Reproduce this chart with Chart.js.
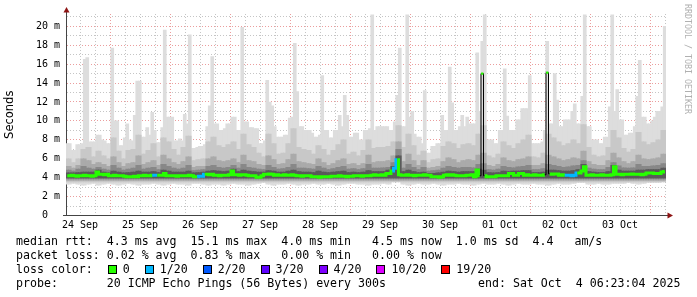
<!DOCTYPE html>
<html><head><meta charset="utf-8">
<script src="https://cdn.jsdelivr.net/npm/chart.js@4.4.1/dist/chart.umd.min.js"></script>
<style>
html,body{margin:0;padding:0;background:#fff}
#wrap{position:relative;width:697px;height:297px;overflow:hidden;background:#fff}
canvas{position:absolute;left:0;top:0}
.leg{position:absolute;left:16px;font-family:'DejaVu Sans Mono',monospace;font-size:11.6px;line-height:14px;white-space:pre;color:#000}
.item{display:inline-block}
.sq{display:inline-block;width:7px;height:7px;border:1px solid #000;vertical-align:-1px;margin-right:6px}
#wm{position:absolute;left:683px;top:4px;writing-mode:vertical-rl;font-family:'DejaVu Sans Mono',monospace;font-size:8.3px;line-height:10px;color:#b0b0b0;white-space:pre}
</style></head>
<body><div id="wrap"><canvas id="c" width="697" height="297"></canvas>
<div class="leg" style="top:234px">median rtt:  4.3 ms avg  15.1 ms max  4.0 ms min   4.5 ms now  1.0 ms sd  4.4   am/s</div>
<div class="leg" style="top:248px">packet loss: 0.02 % avg  0.83 % max   0.00 % min   0.00 % now</div>
<div class="leg" id="lossRow" style="top:262px">loss color:  </div>
<div class="leg" style="top:276px">probe:       20 ICMP Echo Pings (56 Bytes) every 300s</div>
<div class="leg" style="top:276px;left:478px">end: Sat Oct  4 06:23:04 2025</div>
<div id="wm">RRDTOOL / TOBI OETIKER</div>
</div>
<script>
// window start: hours after 24 Sep 00:00 (end: Sat Oct 4 06:23:04, 10 days shown)
const t0 = 6 + 23 / 60 + 4 / 3600;
const spanHours = 240;

const dayLabels = ['24 Sep','25 Sep','26 Sep','27 Sep','28 Sep','29 Sep','30 Sep','01 Oct','02 Oct','03 Oct'];
const yTickLabels = ['0  ','2 m','4 m','6 m','8 m','10 m','12 m','14 m','16 m','18 m','20 m'];

// highest ping per hour (ms)
const maxRtt = [
7.6,7.6,6.9,6.9,7.5,7.5,7.6,16.5,16.7,7.8,
7.8,7.8,8.5,8.5,8.0,7.9,7.6,7.6,17.7,10.0,
10.0,7.4,7.4,8.2,9.7,8.0,7.9,10.6,14.2,14.2,
8.3,8.3,9.3,8.5,10.9,9.0,7.7,7.7,9.3,19.6,
10.4,10.4,10.4,7.9,7.9,8.1,7.9,10.7,9.7,19.1,
7.1,7.1,7.2,7.3,7.3,7.5,9.4,11.6,16.8,9.7,
9.7,9.0,9.0,9.2,9.7,9.7,10.4,10.4,9.0,9.0,
19.9,9.9,9.9,9.3,9.3,9.2,9.2,7.6,7.6,7.9,
14.3,12.0,11.6,9.4,8.3,8.3,8.3,8.5,8.5,10.3,
10.4,18.2,13.1,9.4,9.4,9.0,9.0,9.0,8.7,8.3,
8.3,8.5,14.8,9.0,9.0,8.2,8.2,9.0,9.0,10.6,
9.4,12.7,10.6,8.3,8.3,8.7,8.7,8.0,8.0,9.0,
9.0,9.2,21.2,9.0,9.4,9.4,9.4,9.4,9.4,9.0,
9.0,9.9,12.7,17.7,9.4,9.4,21.2,10.4,11.0,8.6,
8.3,8.3,7.6,13.2,6.6,6.6,7.3,7.3,7.6,7.6,
10.6,9.0,9.0,15.7,11.9,9.0,9.0,9.4,10.6,9.4,
10.4,9.7,9.7,9.7,17.2,11.0,18.4,21.2,8.0,8.0,
8.0,7.6,7.6,9.0,9.0,15.5,10.5,9.0,9.0,9.0,
10.1,10.1,11.3,11.3,11.3,14.8,7.6,7.6,7.6,7.6,
7.8,9.0,18.4,9.7,9.7,15.0,12.2,9.4,9.4,10.1,
10.1,10.1,11.0,11.8,9.7,9.7,12.6,21.2,9.4,9.4,
8.0,8.0,8.0,7.6,7.6,8.3,8.3,11.5,21.2,11.0,
13.3,10.1,10.1,8.5,8.5,8.7,8.7,9.4,12.6,16.4,
10.4,10.4,9.7,9.7,10.0,10.4,11.0,11.0,11.5,20.0
];

// lowest ping per 2 hours (ms)
const minRtt = [
3.3,3.4,3.3,3.2,3.3,3.4,3.2,3.3,3.4,3.3,
3.2,3.3,3.4,3.3,3.2,3.3,3.3,3.4,3.3,3.2,
3.3,3.4,3.3,3.3,3.2,3.4,3.4,3.3,3.2,3.3,
3.3,3.2,3.3,3.4,3.3,3.3,3.2,3.3,3.4,3.5,
3.3,3.2,3.3,3.3,3.4,3.3,3.2,3.3,3.3,3.4,
3.3,3.3,3.4,3.3,3.2,3.3,3.4,3.4,3.3,3.3,
3.2,3.3,3.3,3.4,3.3,3.6,3.7,3.3,3.2,3.3,
3.4,3.3,3.3,3.4,3.3,3.2,3.3,3.3,3.4,3.3,
3.3,3.2,3.3,3.4,3.3,3.3,3.4,3.3,3.2,3.3,
3.4,3.3,3.3,3.4,3.3,3.3,3.2,3.3,3.4,3.3,
3.3,3.4,3.5,3.5,3.3,3.3,3.4,3.3,3.3,3.4,
3.4,3.4,3.5,3.4,3.3,3.4,3.5,3.5,3.5,3.6
];

// smoke band tops per 2 hours (ms), outer to inner
const band1Hi = [
6.0,5.6,6.0,7.0,7.2,6.2,6.8,6.3,6.0,8.2,
6.8,6.0,6.9,7.0,8.5,6.5,6.9,7.6,6.2,8.2,
7.8,7.0,6.4,7.2,8.4,5.8,5.9,6.0,7.8,8.3,
7.4,7.2,7.5,7.8,7.0,8.6,7.5,7.2,6.6,6.2,
8.6,7.6,6.5,6.6,7.6,9.2,7.2,7.0,6.9,6.5,
7.4,7.0,6.4,6.9,7.5,8.0,6.5,6.7,6.3,6.9,
8.0,7.1,7.2,7.2,7.3,7.8,9.5,7.2,8.6,7.4,
6.4,6.8,5.6,5.9,6.0,7.3,7.8,7.6,7.1,7.5,
7.6,7.4,8.6,9.5,6.3,6.1,6.5,7.8,7.4,7.1,
7.6,8.0,8.5,6.2,6.1,6.6,8.6,8.2,7.8,7.4,
7.6,8.0,7.6,9.6,7.2,6.4,6.2,6.3,7.2,9.0,
8.2,7.1,6.7,7.0,8.8,7.8,7.5,7.7,8.0,9.0
];
const band2Hi = [
5.2,5.0,5.3,6.0,5.8,5.4,5.6,5.4,5.2,6.2,
5.6,5.2,5.5,5.6,6.3,5.4,5.6,5.8,5.3,6.4,
6.0,5.6,5.4,5.7,6.2,5.1,5.2,5.2,6.0,6.2,
5.8,5.7,5.8,6.0,5.6,6.4,5.8,5.7,5.4,5.3,
6.3,5.9,5.4,5.5,5.9,6.5,5.7,5.6,5.5,5.4,
6.0,5.6,5.3,5.5,5.8,6.0,5.4,5.5,5.3,5.5,
6.4,5.6,5.7,5.7,5.8,6.3,7.8,5.7,6.5,5.8,
5.3,5.8,5.0,5.1,5.2,5.7,6.1,5.9,5.6,5.8,
5.9,5.8,6.4,6.6,5.3,5.2,5.4,6.1,5.8,5.7,
5.9,6.0,6.2,5.3,5.3,5.5,6.4,6.2,6.0,5.8,
5.9,6.1,6.0,6.8,5.7,5.4,5.3,5.3,5.8,6.6,
6.1,5.7,5.5,5.7,6.4,6.0,5.9,6.0,6.1,6.5
];
const band3Hi = [
4.8,4.7,4.9,5.2,5.0,4.9,5.1,4.9,4.8,5.3,
5.0,4.8,4.9,5.0,5.3,4.9,5.0,5.1,4.85,5.4,
5.2,5.0,4.9,5.0,5.3,4.75,4.8,4.85,5.2,5.3,
5.1,5.0,5.1,5.3,5.0,5.4,5.1,5.0,4.9,4.85,
5.3,5.1,4.9,4.95,5.1,5.4,5.0,5.0,4.95,4.9,
5.2,5.0,4.85,4.95,5.1,5.2,4.9,4.95,4.85,4.95,
5.4,5.0,5.0,5.05,5.1,5.6,7.0,5.0,5.4,5.1,
4.85,5.1,4.7,4.75,4.8,5.0,5.2,5.1,5.0,5.1,
5.1,5.05,5.4,5.5,4.85,4.8,4.9,5.2,5.1,5.05,
5.15,5.2,5.3,4.85,4.85,4.95,5.4,5.3,5.2,5.1,
5.15,5.25,5.3,5.8,5.0,4.9,4.85,4.85,5.1,5.6,
5.25,5.05,5.0,5.05,5.4,5.2,5.2,5.25,5.3,5.5
];
const band4Hi = [
4.5,4.5,4.55,4.6,4.6,4.6,4.8,4.6,4.5,4.7,
4.6,4.5,4.55,4.6,4.7,4.6,4.6,4.65,4.55,4.8,
4.7,4.6,4.6,4.6,4.7,4.5,4.55,4.6,4.7,4.75,
4.7,4.65,4.7,4.9,4.65,4.8,4.7,4.65,4.6,4.6,
4.75,4.7,4.6,4.6,4.7,4.8,4.65,4.6,4.6,4.55,
4.7,4.6,4.55,4.6,4.65,4.7,4.55,4.6,4.55,4.6,
4.75,4.65,4.65,4.65,4.8,5.2,6.3,4.65,4.8,4.65,
4.55,4.6,4.45,4.45,4.5,4.6,4.7,4.65,4.6,4.65,
4.65,4.65,4.9,4.8,4.55,4.5,4.55,4.7,4.65,4.7,
4.7,4.75,4.75,4.55,4.55,4.6,4.8,4.8,4.75,4.7,
4.7,4.75,4.85,5.4,4.65,4.6,4.55,4.55,4.65,5.3,
4.8,4.7,4.7,4.7,4.8,4.8,4.85,4.85,4.85,5.0
];
// bottoms of the inner smoke bands (ms)
const bandFloors = [3.55, 3.72, 3.86, 3.97];

// median rtt per hour (ms)
const medianRtt = [
4.2,4.2,4.25,4.2,4.15,4.2,4.2,4.25,4.2,4.2,
4.15,4.2,4.6,4.35,4.35,4.3,4.35,4.2,4.2,4.25,
4.2,4.2,4.2,4.15,4.1,4.1,4.1,4.15,4.1,4.2,
4.2,4.25,4.2,4.2,4.25,4.25,4.25,4.25,4.25,4.45,
4.2,4.2,4.2,4.2,4.15,4.2,4.2,4.2,4.2,4.25,
4.2,4.1,4.1,4.15,4.15,4.35,4.35,4.3,4.35,4.25,
4.25,4.2,4.25,4.25,4.25,4.3,4.7,4.3,4.3,4.25,
4.3,4.3,4.25,4.2,4.2,4.2,4.05,4.05,4.2,4.35,
4.35,4.4,4.35,4.25,4.3,4.25,4.25,4.3,4.25,4.25,
4.3,4.25,4.2,4.2,4.15,4.2,4.2,4.2,4.1,4.1,
4.1,4.05,4.1,4.1,4.1,4.1,4.15,4.15,4.15,4.2,
4.15,4.15,4.1,4.15,4.15,4.2,4.2,4.2,4.15,4.2,
4.2,4.2,4.25,4.3,4.25,4.25,4.3,4.25,4.45,4.45,
4.7,5.0,5.9,4.3,4.25,4.25,4.3,4.25,4.25,4.2,
4.25,4.25,4.25,4.3,4.25,4.25,4.1,4.1,4.1,4.05,
4.1,4.25,4.3,4.25,4.3,4.25,4.2,4.2,4.2,4.2,
4.25,4.25,4.3,4.1,4.8,4.2,15.0,4.2,4.1,4.1,
4.1,4.1,4.2,4.2,4.2,4.2,4.2,4.45,4.45,4.25,
4.25,4.45,4.45,4.25,4.3,4.25,4.25,4.3,4.25,4.25,
4.25,4.3,15.1,4.4,4.35,4.4,4.4,4.25,4.3,4.25,
4.25,4.25,4.2,4.25,4.5,4.5,4.7,5.15,4.25,4.25,
4.3,4.25,4.25,4.25,4.3,4.25,4.25,4.25,4.3,5.15,
4.35,4.35,4.3,4.35,4.35,4.35,4.4,4.35,4.35,4.35,
4.3,4.35,4.5,4.5,4.5,4.45,4.45,4.45,4.6,4.65
];

// hours with lost pings, and how many (index into lossColors)
const lossAt = [35, 53, 54, 131, 200, 201, 202, 203];
const lossLevel = [1, 1, 1, 1, 1, 1, 1, 1];
const lossLabels = ['0','1/20','2/20','3/20','4/20','10/20','19/20'];
const lossColors = ['#26ff00','#00b8ff','#0059ff','#5e00ff','#7e00ff','#dd00ff','#ff0000'];

// ---- legend row of loss colours ----
const row = document.getElementById('lossRow');
lossLabels.forEach((lab, k) => {
  const it = document.createElement('span');
  it.className = 'item';
  it.style.marginLeft = k === 0 ? '1px' : '15px';
  const sq = document.createElement('span');
  sq.className = 'sq';
  sq.style.background = lossColors[k];
  it.appendChild(sq);
  it.appendChild(document.createTextNode(lab));
  row.appendChild(it);
});

// ---- chart ----
Chart.defaults.font.family = "'DejaVu Sans Mono', monospace";
const majorGrid = 'rgba(215,60,60,0.5)';
const minorGrid = 'rgba(140,140,140,0.5)';
const axisColor = '#444';

const hourX = i => t0 + i + 0.5;
const lossOf = i => { const k = lossAt.indexOf(i); return k < 0 ? 0 : lossLevel[k]; };

const bandDefs = [
  { hi: i => maxRtt[i], lo: i => minRtt[i >> 1], color: '#dddddd' },
  { hi: i => band1Hi[i >> 1], lo: () => bandFloors[0], color: '#c8c8c8' },
  { hi: i => band2Hi[i >> 1], lo: () => bandFloors[1], color: '#aaaaaa' },
  { hi: i => band3Hi[i >> 1], lo: () => bandFloors[2], color: '#888888' },
  { hi: i => band4Hi[i >> 1], lo: () => bandFloors[3], color: '#5a5a5a' }
];
const bandSets = bandDefs.map((b, k) => ({
  type: 'bar',
  data: maxRtt.map((_, i) => ({ x: hourX(i), y: [b.lo(i), b.hi(i)] })),
  backgroundColor: b.color,
  borderWidth: 0,
  barThickness: 3,
  grouped: false,
  order: 10 - k
}));

const bigJump = c => Math.abs(c.p1.parsed.y - c.p0.parsed.y) > 2;
const medianSet = {
  type: 'line',
  data: medianRtt.map((v, i) => ({ x: hourX(i), y: v })),
  stepped: 'middle',
  borderColor: lossColors[0],
  borderWidth: 3,
  borderCapStyle: 'butt',
  pointRadius: c => (c.raw && c.raw.y > 10 ? 1.6 : 0),
  pointStyle: 'rect',
  pointBackgroundColor: lossColors[0],
  pointBorderWidth: 0,
  fill: false,
  order: 1,
  segment: {
    borderColor: c => bigJump(c) ? '#000000' : lossColors[Math.max(lossOf(c.p0DataIndex), lossOf(c.p1DataIndex))],
    borderWidth: c => bigJump(c) ? 1 : 3
  }
};

const xGrid = [];
for (let h = 12; h <= t0 + spanHours; h += 6) xGrid.push(h);
const yGrid = [];
for (let v = 0; v <= 21; v++) yGrid.push(v);

const axisArrows = {
  id: 'axisArrows',
  afterDraw(chart) {
    const { ctx, chartArea: a } = chart;
    const xa = Math.round(a.left) + 0.5;
    const ya = Math.round(a.bottom - 0.5) + 0.5;
    ctx.save();
    ctx.strokeStyle = axisColor; ctx.lineWidth = 1;
    ctx.beginPath(); ctx.moveTo(xa, a.top); ctx.lineTo(xa, a.top - 4); ctx.stroke();
    ctx.beginPath(); ctx.moveTo(a.right, ya); ctx.lineTo(a.right + 3, ya); ctx.stroke();
    ctx.beginPath(); ctx.moveTo(a.left - 3, ya); ctx.lineTo(a.left, ya); ctx.stroke();
    ctx.fillStyle = '#8e1414';
    ctx.beginPath(); ctx.moveTo(xa - 3, a.top - 1.5); ctx.lineTo(xa + 3, a.top - 1.5); ctx.lineTo(xa, a.top - 7); ctx.closePath(); ctx.fill();
    ctx.beginPath(); ctx.moveTo(a.right + 1.5, ya - 3); ctx.lineTo(a.right + 1.5, ya + 3); ctx.lineTo(a.right + 7, ya); ctx.closePath(); ctx.fill();
    ctx.restore();
  }
};

new Chart(document.getElementById('c'), {
  type: 'bar',
  data: { datasets: [...bandSets, medianSet] },
  options: {
    responsive: false,
    animation: false,
    events: [],
    layout: { padding: { left: 0, right: 31, top: 14, bottom: 0 } },
    plugins: { legend: { display: false }, tooltip: { enabled: false } },
    scales: {
      x: {
        type: 'linear', min: t0, max: t0 + spanHours, offset: false, z: 1,
        afterBuildTicks: s => { s.ticks = xGrid.map(v => ({ value: v })); },
        afterFit: s => { s.height = 81.5; },
        ticks: {
          autoSkip: false, maxRotation: 0, minRotation: 0, padding: 4, color: '#000',
          font: { size: 10, family: "'DejaVu Sans Mono', monospace" },
          callback: v => (v % 24 === 12 ? dayLabels[(v - 12) / 24] : '')
        },
        grid: {
          offset: false, drawTicks: false, lineWidth: 1,
          color: c => (c.tick && c.tick.value % 24 === 0 ? majorGrid : minorGrid)
        },
        border: { display: true, color: axisColor, width: 1, dash: [1, 2] }
      },
      y: {
        type: 'linear', min: 0, max: 21.3, stacked: false, z: 1,
        afterBuildTicks: s => { s.ticks = yGrid.map(v => ({ value: v })); },
        afterFit: s => { s.width = 66; },
        ticks: {
          autoSkip: false, padding: 6, color: '#000',
          font: { size: 10, family: "'DejaVu Sans Mono', monospace" },
          callback: v => (v % 2 === 0 ? yTickLabels[v / 2] : '')
        },
        grid: {
          drawTicks: false, lineWidth: 1,
          color: c => (c.tick && c.tick.value % 2 === 0 ? majorGrid : minorGrid)
        },
        border: { display: true, color: axisColor, width: 1, dash: [1, 2] },
        title: {
          display: true, text: 'Seconds', color: '#000',
          font: { family: "'DejaVu Sans', sans-serif", size: 11.5 },
          padding: { top: 3, bottom: 0 }
        }
      }
    }
  },
  plugins: [axisArrows]
});
</script>
</body></html>
